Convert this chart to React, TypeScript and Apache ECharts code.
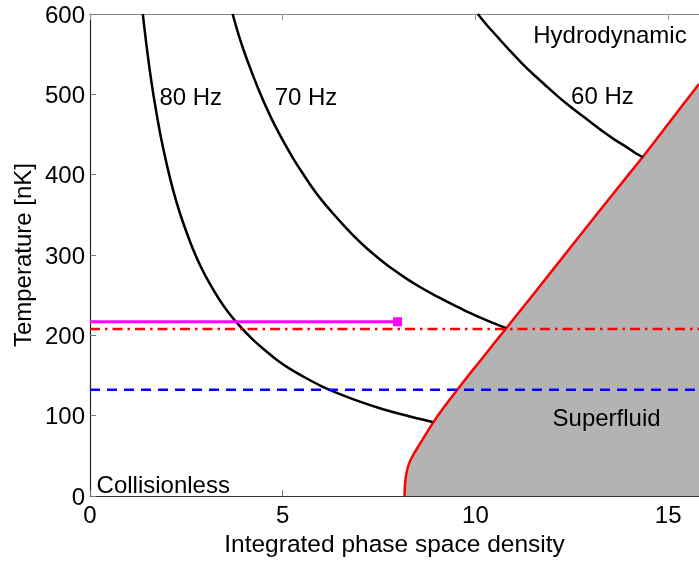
import React, { useEffect, useRef } from "react";
import * as echarts from "echarts";

// Axis settings
const xMin = 0;
const xMax = 15.8;
const xInterval = 5;
const yMin = 0;
const yMax = 600;
const yInterval = 100;

// Iso-frequency curves [phase space density, temperature nK]
const curve80Hz: number[][] = [
  [1.37, 600], [1.45, 567], [1.55, 530], [1.65, 498], [1.75, 470], [1.85, 444],
  [2.0, 411], [2.15, 382], [2.3, 357], [2.5, 329], [2.7, 304], [2.9, 283],
  [3.1, 265], [3.35, 245], [3.6, 228], [3.9, 211], [4.2, 196], [4.5, 183],
  [4.85, 169.5], [5.2, 158], [5.6, 147], [6.0, 137], [6.5, 126.5], [7.0, 117.5],
  [7.5, 109.6], [8.0, 102.8], [8.45, 97.3], [8.89, 92.2],
];
const curve70Hz: number[][] = [
  [3.70, 600], [3.85, 575], [4.0, 553], [4.2, 527], [4.4, 503], [4.6, 481],
  [4.8, 461], [5.0, 443], [5.25, 422], [5.5, 403], [5.75, 385], [6.0, 369],
  [6.3, 352], [6.6, 336], [6.9, 321], [7.2, 307.5], [7.5, 295.5], [7.85, 282.5],
  [8.2, 271], [8.55, 260.5], [8.9, 251], [9.3, 241], [9.7, 231.5], [10.1, 222.8],
  [10.45, 215.6], [10.8, 209],
];
const curve60Hz: number[][] = [
  [10.06, 600], [10.3, 586], [10.6, 570], [10.9, 554], [11.2, 539], [11.5, 525],
  [11.8, 512], [12.1, 499], [12.4, 487], [12.7, 476], [13.0, 465], [13.3, 454],
  [13.6, 444], [13.9, 435], [14.15, 427], [14.34, 422],
];
// Superfluid phase boundary
const boundary: number[][] = [
  [8.16, 0], [8.165, 8], [8.18, 18], [8.205, 27], [8.24, 35], [8.29, 42],
  [8.35, 48], [8.42, 54], [8.50, 60.5], [8.59, 67.5], [8.68, 74.5], [8.79, 83],
  [8.89, 90.5], [9.0, 98.5], [9.15, 108.5], [9.30, 118], [9.54, 133], [9.8, 149],
  [10.1, 167], [10.45, 188], [10.8, 209], [11.5, 251], [12.5, 311.5], [13.5, 372],
  [14.34, 422], [15.0, 463], [15.8, 513],
];
// Horizontal reference lines
const magentaT = 217;
const magentaEndX = 7.98;
const redT = 208;
const blueT = 132.5;

// Region / curve labels
const labelTexts = ["80 Hz", "70 Hz", "60 Hz", "Hydrodynamic", "Superfluid", "Collisionless"];
const labelX = [1.80, 4.79, 12.48, 11.5, 12.0, 0.17];
const labelY = [497, 497, 499, 574, 98, 15];

const FONT = "'Liberation Sans', Arial, Helvetica, sans-serif";
const FS = 24;

export default function App() {
  const ref = useRef<HTMLDivElement>(null);
  useEffect(() => {
    const chart = echarts.init(ref.current!, null, { renderer: "svg" });
    const lineBase = {
      type: "line", showSymbol: false, symbol: "none", smooth: 0.25, z: 5, silent: true,
    };
    chart.setOption({
      animation: false,
      textStyle: { fontFamily: FONT },
      grid: { left: 90, right: 0, top: 14, bottom: 62 },
      xAxis: [
        {
          type: "value", min: xMin, max: xMax, interval: xInterval,
          name: "Integrated phase space density", nameLocation: "middle", nameGap: 18,
          nameTextStyle: { fontSize: 24.5, color: "#000", fontFamily: FONT },
          axisLine: { show: true, lineStyle: { color: "#333", width: 1 } },
          axisTick: { show: true, inside: true, length: 6, lineStyle: { color: "#777" } },
          axisLabel: { fontSize: FS, color: "#000", margin: 6, fontFamily: FONT },
          splitLine: { show: false },
        },
        {
          type: "value", position: "top", min: xMin, max: xMax, interval: xInterval,
          axisLine: { show: true, lineStyle: { color: "#888", width: 1 } },
          axisTick: { show: true, inside: true, length: 6, lineStyle: { color: "#999" } },
          axisLabel: { show: false },
          splitLine: { show: false },
        },
      ],
      yAxis: {
        type: "value", min: yMin, max: yMax, interval: yInterval,
        name: "Temperature [nK]", nameLocation: "middle", nameGap: 54,
        nameTextStyle: { fontSize: FS, color: "#000", fontFamily: FONT },
        axisLine: { show: true, lineStyle: { color: "#222", width: 1.2 } },
        axisTick: { show: true, inside: true, length: 6, lineStyle: { color: "#777" } },
        axisLabel: { fontSize: FS, color: "#000", margin: 5, fontFamily: FONT },
        splitLine: { show: false },
      },
      series: [
        {
          ...lineBase, name: "Superfluid", data: boundary, z: 2,
          lineStyle: { color: "#ff0000", width: 2.5 },
          areaStyle: { color: "#b3b3b3", opacity: 1, origin: "start" },
        },
        { ...lineBase, name: "80 Hz", data: curve80Hz, z: 3, lineStyle: { color: "#000", width: 2.5 } },
        { ...lineBase, name: "70 Hz", data: curve70Hz, z: 3, lineStyle: { color: "#000", width: 2.5 } },
        { ...lineBase, name: "60 Hz", data: curve60Hz, z: 3, lineStyle: { color: "#000", width: 2.5 } },
        {
          ...lineBase, smooth: false, name: "blue", data: [[xMin, blueT], [xMax, blueT]], z: 4,
          lineStyle: { color: "#0000ff", width: 2.5, type: [10, 7] },
        },
        {
          ...lineBase, smooth: false, name: "red", data: [[xMin, redT], [xMax, redT]], z: 4,
          lineStyle: { color: "#ff0000", width: 2.5, type: [10, 5, 2.5, 5] },
        },
        {
          type: "line", smooth: false, name: "magenta", silent: true, z: 6,
          data: [
            { value: [xMin, magentaT], symbol: "none" },
            { value: [magentaEndX, magentaT], symbol: "rect", symbolSize: 9 },
          ],
          showSymbol: true,
          itemStyle: { color: "#ff00ff", opacity: 1 },
          lineStyle: { color: "#ff00ff", width: 3 },
        },
        {
          type: "scatter", name: "labels", silent: true, z: 7, symbolSize: 0,
          itemStyle: { opacity: 1, color: "#000" },
          data: labelTexts.map((t, i) => ({ value: [labelX[i], labelY[i]], name: t })),
          label: {
            show: true, position: "right", distance: 0, formatter: (p: any) => p.name,
            fontSize: FS, color: "#000", opacity: 1, fontFamily: FONT, align: "left", verticalAlign: "middle",
          },
        },
      ],
    });
    return () => chart.dispose();
  }, []);
  return <div ref={ref} style={{ position: "fixed", left: 0, top: 0, width: 699, height: 561 }} />;
}
